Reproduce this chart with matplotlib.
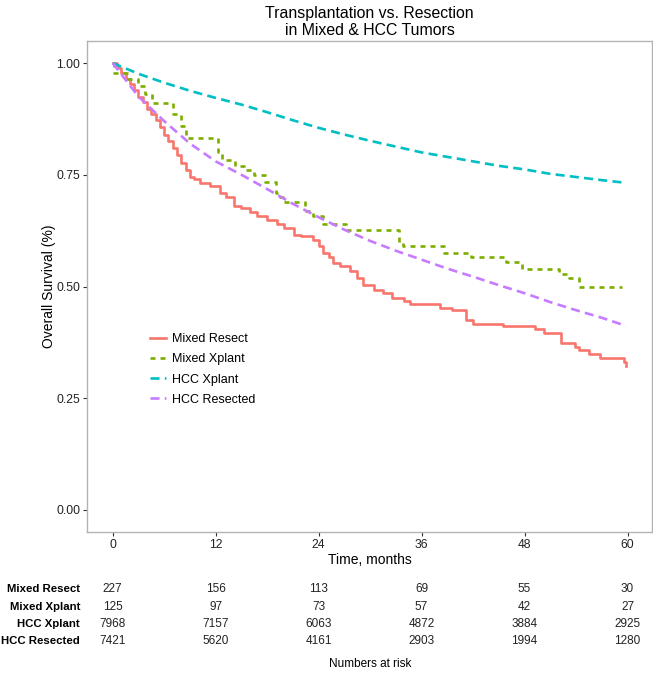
import matplotlib

matplotlib.use("Agg")

import matplotlib.pyplot as plt
from matplotlib.transforms import blended_transform_factory

plt.rcParams["font.family"] = ["Liberation Sans", "DejaVu Sans"]
plt.rcParams["lines.scale_dashes"] = False

# Kaplan-Meier curves
mixed_resect_t = [0, 0.5, 1.0, 1.5, 2.0, 2.5, 3.0, 3.5, 4.0, 4.5, 5.0, 5.5, 6.0, 6.5,
                  7.0, 7.5, 8.0, 8.5, 9.0, 9.5, 10.2, 11.3, 12.5, 13.2, 14.1, 15.0,
                  16.0, 16.8, 18.0, 19.1, 20.0, 21.1, 22.0, 23.4, 24.0, 24.5, 25.2,
                  25.7, 26.5, 27.7, 28.5, 29.2, 30.4, 31.5, 32.5, 33.9, 34.6, 38.1,
                  39.5, 41.2, 42.0, 45.5, 49.2, 50.3, 52.3, 53.9, 54.4, 55.5, 56.8,
                  59.6, 59.8]
mixed_resect_s = [1.0, 0.99, 0.978, 0.965, 0.952, 0.94, 0.925, 0.912, 0.898, 0.885,
                  0.872, 0.858, 0.84, 0.825, 0.81, 0.795, 0.776, 0.76, 0.746, 0.74,
                  0.732, 0.724, 0.71, 0.70, 0.68, 0.676, 0.667, 0.657, 0.648, 0.639,
                  0.63, 0.616, 0.612, 0.605, 0.59, 0.575, 0.565, 0.553, 0.545, 0.534,
                  0.52, 0.504, 0.493, 0.486, 0.475, 0.467, 0.46, 0.452, 0.447, 0.426,
                  0.417, 0.411, 0.404, 0.397, 0.374, 0.365, 0.359, 0.35, 0.341, 0.33,
                  0.322]

mixed_xplant_t = [0, 0.2, 1.8, 3.0, 3.8, 4.6, 7.0, 8.0, 8.6, 12.3, 12.7, 14.2, 15.3,
                  16.5, 17.7, 19.0, 19.4, 19.8, 22.4, 23.4, 24.5, 27.2, 33.4, 33.8,
                  38.6, 41.8, 45.8, 47.7, 52.0, 53.2, 54.4, 59.3]
mixed_xplant_s = [1.0, 0.977, 0.965, 0.948, 0.93, 0.91, 0.886, 0.86, 0.832, 0.80,
                  0.784, 0.77, 0.76, 0.75, 0.733, 0.71, 0.70, 0.688, 0.668, 0.658,
                  0.64, 0.627, 0.598, 0.59, 0.575, 0.566, 0.555, 0.54, 0.528, 0.52,
                  0.498, 0.498]

hcc_t = [0, 3, 6, 9, 12, 15, 18, 21, 24, 27, 30, 33, 36, 39, 42, 45, 48, 51, 54, 57, 59.8]
hcc_xplant_s = [1.0, 0.976, 0.956, 0.938, 0.922, 0.907, 0.89, 0.872, 0.855, 0.84,
                0.826, 0.813, 0.80, 0.79, 0.78, 0.77, 0.762, 0.752, 0.745, 0.738, 0.732]
hcc_resected_s = [1.0, 0.925, 0.87, 0.82, 0.78, 0.75, 0.718, 0.685, 0.655, 0.627,
                  0.602, 0.58, 0.56, 0.54, 0.522, 0.503, 0.485, 0.465, 0.447, 0.43, 0.412]

groups = ["Mixed Resect", "Mixed Xplant", "HCC Xplant", "HCC Resected"]
colors = ["#F8766D", "#7CAE00", "#00BFC4", "#C77CFF"]

risk_times = [0, 12, 24, 36, 48, 60]
risk_counts = {
    "Mixed Resect": [227, 156, 113, 69, 55, 30],
    "Mixed Xplant": [125, 97, 73, 57, 42, 27],
    "HCC Xplant": [7968, 7157, 6063, 4872, 3884, 2925],
    "HCC Resected": [7421, 5620, 4161, 2903, 1994, 1280],
}

W, H = 653, 674
fig = plt.figure(figsize=(W / 100, H / 100), dpi=100)
ax = fig.add_axes([87.3 / W, 1 - 532.3 / H, (652 - 87.3) / W, (532.3 - 40.7) / H])

lw = 1.9
ax.step(mixed_resect_t, mixed_resect_s, where="post", color=colors[0], lw=lw,
        label=groups[0])
ax.step(mixed_xplant_t, mixed_xplant_s, where="post", color=colors[1], lw=lw,
        dashes=(3.6, 3.6), label=groups[1])
ax.plot(hcc_t, hcc_xplant_s, color=colors[2], lw=lw, dashes=(6.5, 3.8), label=groups[2])
ax.plot(hcc_t, hcc_resected_s, color=colors[3], lw=lw, dashes=(6.5, 3.8), label=groups[3])

ax.set_xlim(-2.96, 62.85)
ax.set_ylim(-0.05, 1.05)
ax.set_xticks(risk_times)
ax.set_yticks([0, 0.25, 0.5, 0.75, 1.0])
ax.set_yticklabels(["0.00", "0.25", "0.50", "0.75", "1.00"])
ax.tick_params(length=3, width=0.8, color="#333333", labelsize=8.7, labelcolor="#222222",
               pad=2)
for spine in ax.spines.values():
    spine.set_color("#b3b3b3")
    spine.set_linewidth(1.0)

ax.set_xlabel("Time, months", fontsize=10, labelpad=1)
ax.set_ylabel("Overall Survival (%)", fontsize=10, labelpad=0.5)
ax.set_title("Transplantation vs. Resection\nin Mixed & HCC Tumors", fontsize=11.4,
             linespacing=1.15, pad=4)

ax.legend(loc="upper left", bbox_to_anchor=(150 / W, 1 - 333 / H),
          bbox_transform=fig.transFigure, frameon=False, fontsize=9,
          handlelength=1.25, handletextpad=0.5, labelspacing=0.66,
          borderpad=0, borderaxespad=0)

# numbers at risk table under the plot
trans = blended_transform_factory(ax.transData, fig.transFigure)
row_y = [589, 606.5, 624, 641.5]
for name, y in zip(groups, row_y):
    fig.text(80 / W, 1 - y / H, name, ha="right", va="center", fontsize=8.2,
             fontweight="bold")
    for t, n in zip(risk_times, risk_counts[name]):
        ax.text(t, 1 - y / H, str(n), transform=trans, ha="center", va="center",
                fontsize=8.5, color="#222222")
ax.text(30, 1 - 664 / H, "Numbers at risk", transform=trans, ha="center",
        va="center", fontsize=8.5)

fig.savefig("out.png", dpi=100)
